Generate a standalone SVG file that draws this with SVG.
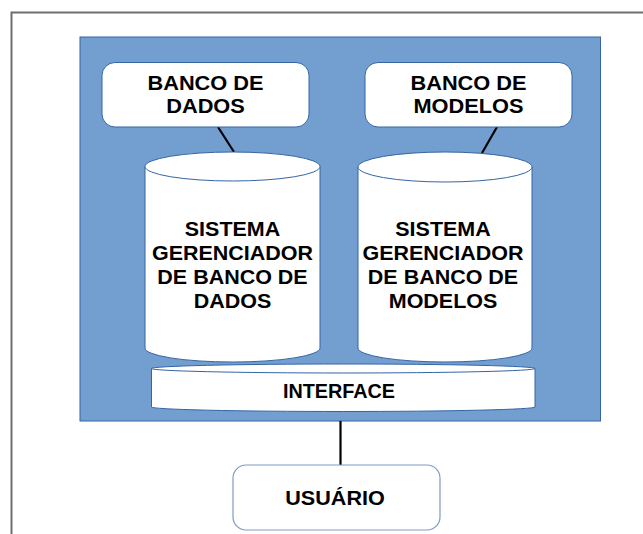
<svg xmlns="http://www.w3.org/2000/svg" width="643" height="534" viewBox="0 0 643 534">
  <style>
    .lbl { font-family: "Liberation Sans", Arial, sans-serif; font-weight: bold; font-size: 19.8px; fill: #000; text-anchor: middle; }
    .box { fill: #fff; stroke: #3465a4; stroke-width: 1; }
    .ubox { fill: #fff; stroke: #7f9cc4; stroke-width: 1.2; }
    .cyl { fill: #fff; stroke: #3465a4; stroke-width: 1; }
    .wire { stroke: #000; stroke-width: 2.2; fill: none; }
  </style>

  <rect width="643" height="534" fill="#fff"/>
  <!-- outer frame -->
  <rect id="frame" x="11.5" y="12.5" width="700" height="600" fill="none" stroke="#6e6e6e" stroke-width="2"/>
  <!-- system panel -->
  <rect id="panel" x="80" y="37" width="520.5" height="384" fill="#729fcf" stroke="#3465a4" stroke-width="1"/>

  <g id="connectors">
    <line class="wire" x1="218" y1="127" x2="234" y2="152"/>
    <line class="wire" x1="497" y1="127" x2="482" y2="153"/>
    <line class="wire" x1="340.5" y1="421" x2="340.5" y2="465"/>
  </g>

  <g id="banco-dados">
    <rect class="box" x="102" y="62.5" width="207" height="64.5" rx="13"/>
    <g transform="translate(205.5 0) scale(1.1 1)">
      <text class="lbl" x="0" y="90">BANCO DE</text>
      <text class="lbl" x="0" y="113.5">DADOS</text>
    </g>
  </g>

  <g id="banco-modelos">
    <rect class="box" x="365" y="62.5" width="207" height="64.5" rx="13"/>
    <g transform="translate(468.5 0) scale(1.1 1)">
      <text class="lbl" x="0" y="90">BANCO DE</text>
      <text class="lbl" x="0" y="113.5">MODELOS</text>
    </g>
  </g>

  <g id="sgbd">
    <path class="cyl" d="M145 166.5 V348 A87.5 14 0 0 0 320 348 V166.5"/>
    <ellipse class="cyl" cx="232.5" cy="166.5" rx="87.5" ry="14.5"/>
    <g transform="translate(232.5 0) scale(1.085 1)">
      <text class="lbl" x="0" y="236.5">SISTEMA</text>
      <text class="lbl" x="0" y="260.5">GERENCIADOR</text>
      <text class="lbl" x="0" y="284.5">DE BANCO DE</text>
      <text class="lbl" x="0" y="308.5">DADOS</text>
    </g>
  </g>

  <g id="sgbm">
    <path class="cyl" d="M358 167 V348 A87 14 0 0 0 532 348 V167"/>
    <ellipse class="cyl" cx="445" cy="167" rx="87" ry="15"/>
    <g transform="translate(443 0) scale(1.085 1)">
      <text class="lbl" x="0" y="236.5">SISTEMA</text>
      <text class="lbl" x="0" y="260.5">GERENCIADOR</text>
      <text class="lbl" x="0" y="284.5">DE BANCO DE</text>
      <text class="lbl" x="0" y="308.5">MODELOS</text>
    </g>
  </g>

  <g id="interface">
    <path class="cyl" d="M151.5 368.5 V407 A191.75 4.5 0 0 0 535 407 V368.5"/>
    <ellipse class="cyl" cx="343.25" cy="368.5" rx="191.75" ry="4.5"/>
    <text class="lbl" x="339" y="397.5">INTERFACE</text>
  </g>

  <g id="usuario">
    <rect class="ubox" x="233" y="465" width="207" height="65" rx="13"/>
    <g transform="translate(335 0) scale(1.09 1)">
      <text class="lbl" x="0" y="505">USUÁRIO</text>
    </g>
  </g>
</svg>
